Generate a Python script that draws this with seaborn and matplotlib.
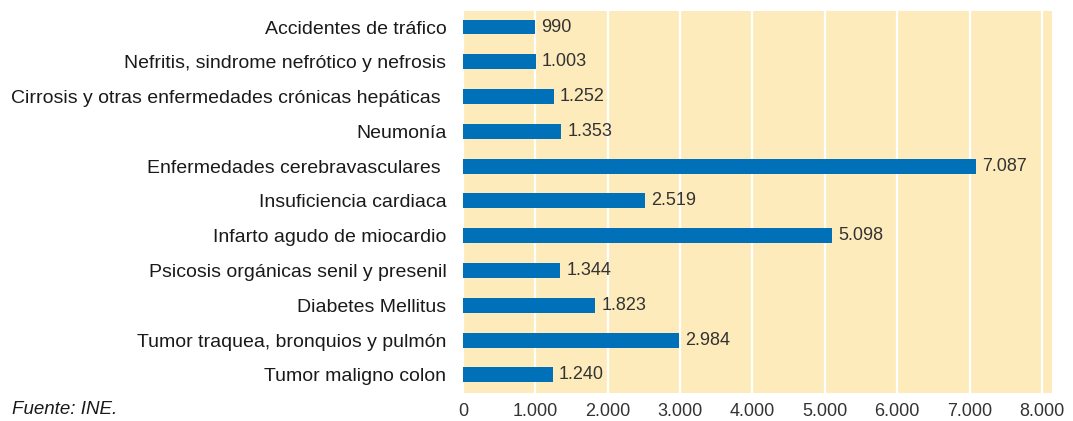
import pandas as pd
import seaborn as sns
import matplotlib.pyplot as plt
from matplotlib.ticker import FuncFormatter

# --- Data ---
causas = [
    "Accidentes de tráfico",
    "Nefritis, sindrome nefrótico y nefrosis",
    "Cirrosis y otras enfermedades crónicas hepáticas ",
    "Neumonía",
    "Enfermedades cerebravasculares ",
    "Insuficiencia cardiaca",
    "Infarto agudo de miocardio",
    "Psicosis orgánicas senil y presenil",
    "Diabetes Mellitus",
    "Tumor traquea, bronquios y pulmón",
    "Tumor maligno colon",
]
defunciones = [990, 1003, 1252, 1353, 7087, 2519, 5098, 1344, 1823, 2984, 1240]
x_ticks = [0, 1000, 2000, 3000, 4000, 5000, 6000, 7000, 8000]
# -------------------------------------

BAR_COLOR = "#0071b9"
BG_COLOR = "#fdebbb"
TEXT_COLOR = "#1a1a1a"
NUM_COLOR = "#333333"


def miles(v, pos=None):
    return f"{int(v):,}".replace(",", ".")


def plot_chart():
    df = pd.DataFrame({"Causa": causas, "Defunciones": defunciones})

    sns.set_theme(style="white")
    plt.rcParams["font.family"] = ["Liberation Sans", "DejaVu Sans"]

    fig = plt.figure(figsize=(10.73, 4.21), dpi=100)
    ax = fig.add_axes([463 / 1073, 1 - 393 / 421, (1052 - 463) / 1073, (393 - 11) / 421])
    ax.set_facecolor(BG_COLOR)

    sns.barplot(data=df, x="Defunciones", y="Causa", order=causas,
                color=BAR_COLOR, width=0.43, saturation=1, linewidth=0,
                ax=ax, zorder=3)

    ax.set_xlim(0, 8140)
    ax.set_ylim(10.52, -0.46)
    ax.set_xticks(x_ticks)
    ax.xaxis.set_major_formatter(FuncFormatter(miles))
    ax.grid(axis="x", color="white", linewidth=1.6, zorder=1)
    ax.set_axisbelow(True)

    for s in ax.spines.values():
        s.set_visible(False)
    ax.tick_params(axis="both", length=0)
    ax.tick_params(axis="y", pad=12, labelsize=14, colors=TEXT_COLOR)
    ax.tick_params(axis="x", pad=7, labelsize=13, colors=NUM_COLOR)
    ax.set_xlabel("")
    ax.set_ylabel("")

    # value labels at bar ends
    for container in ax.containers:
        ax.bar_label(container, labels=[miles(v) for v in defunciones],
                     padding=4.5, fontsize=13, color=NUM_COLOR)

    fig.text(12 / 1073, 1 - 410 / 421, "Fuente: INE.", style="italic",
             fontsize=13.5, color=TEXT_COLOR, va="center", ha="left")

    fig.savefig("out.png", dpi=100)


if __name__ == "__main__":
    plot_chart()
